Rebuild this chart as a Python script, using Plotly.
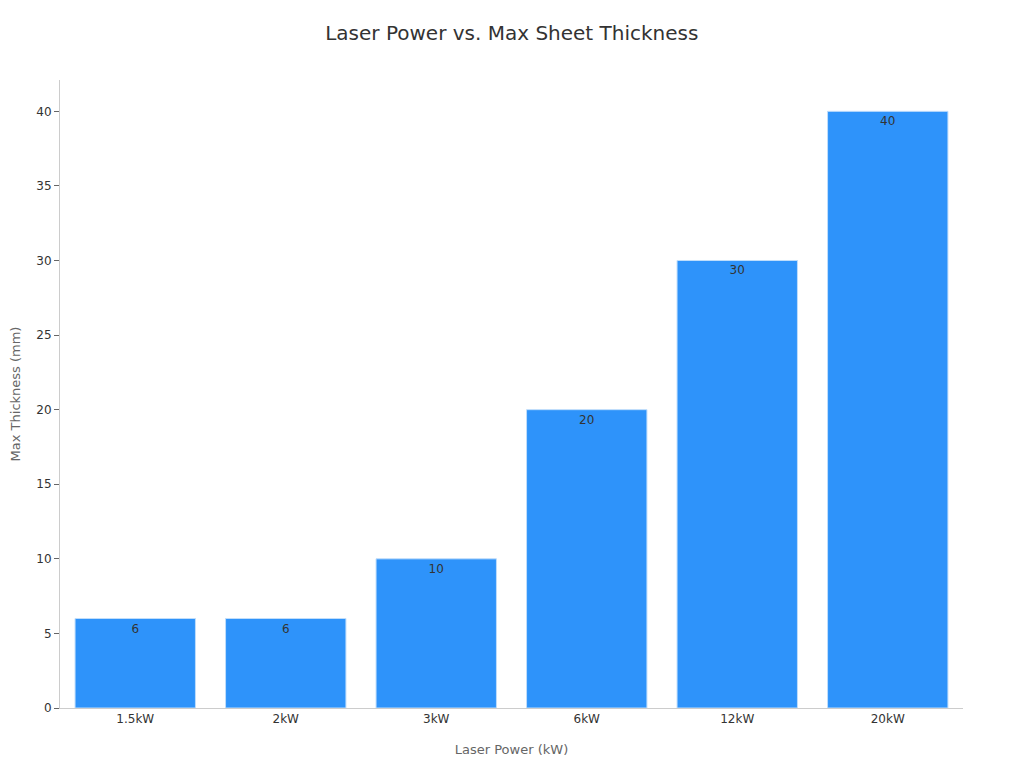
import plotly.graph_objects as go

categories = ["1.5kW", "2kW", "3kW", "6kW", "12kW", "20kW"]
thickness = [6, 6, 10, 20, 30, 40]

fig = go.Figure(go.Bar(
    x=categories, y=thickness, text=[str(v) for v in thickness],
    textposition="inside", insidetextanchor="end",
    textfont=dict(color="#333333", size=12),
    marker=dict(color="#2E93FA", line=dict(color="#BFDDFB", width=1)),
    width=0.8,
))
fig.update_layout(
    width=1024, height=768,
    margin=dict(l=52, r=69, t=72, b=68, autoexpand=False),
    paper_bgcolor="white", plot_bgcolor="white",
    font=dict(family="DejaVu Sans, sans-serif", color="#333333"),
    title=dict(text="Laser Power vs. Max Sheet Thickness", x=0.492, xanchor="center",
               y=0.967, yanchor="middle", font=dict(size=20, color="#333333")),
    showlegend=False,
)
fig.update_xaxes(title=dict(text="Laser Power (kW)", standoff=19, font=dict(size=13, color="#666666")),
                 automargin=False,
                 showline=True, linecolor="#CCCCCC", ticks="", tickfont=dict(size=12))
fig.update_yaxes(title=dict(text="Max Thickness (mm)", standoff=16, font=dict(size=13, color="#666666")),
                 automargin=False,
                 range=[0, 42.1], dtick=5, showgrid=False, zeroline=False,
                 showline=True, linecolor="#CCCCCC", ticks="outside", ticklen=5,
                 tickcolor="#666666", tickfont=dict(size=12))
fig.write_html("out.html")
